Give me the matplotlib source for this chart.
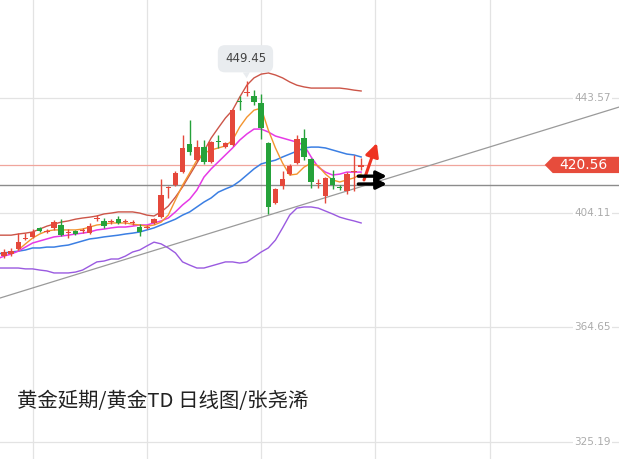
import numpy as np
import matplotlib.pyplot as plt
from matplotlib.patches import Polygon
import matplotlib.transforms as mtransforms

plt.rcParams['font.family'] = ['Noto Sans CJK SC', 'DejaVu Sans']

# ---------------- data ----------------
opens = [389.2, 389.9, 391.6, 395.1, 395.8, 398.9, 397.5, 398.9, 399.9, 397.1,
         397.8, 397.8, 397.1, 401.9, 401.3, 400.9, 401.9, 400.9, 400.6, 399.2,
         398.9, 400.6, 402.6, 412.6, 413.6, 418.1, 427.8, 422.2, 426.7, 421.6,
         428.8, 426.7, 427.4, 442.5, 445.3, 444.3, 441.9, 428.1, 407.5, 413.3,
         417.4, 421.2, 429.8, 422.6, 414.0, 409.9, 416.1, 413.0, 411.6, 418.1,
         419.8]
closes = [390.6, 390.9, 394.0, 395.4, 397.5, 397.8, 397.8, 400.9, 396.4, 397.5,
          396.8, 398.2, 399.5, 402.3, 399.5, 401.3, 400.6, 401.3, 400.9, 397.5,
          399.2, 401.9, 410.2, 413.0, 417.8, 426.4, 425.0, 426.7, 421.6, 428.4,
          428.4, 428.1, 439.4, 442.2, 445.6, 442.2, 433.3, 406.1, 412.3, 415.7,
          420.2, 429.5, 423.3, 414.7, 414.3, 416.1, 413.6, 412.6, 417.4, 418.5,
          420.56]
highs = [391.6, 392.0, 397.1, 397.1, 398.5, 399.2, 398.5, 401.6, 401.9, 398.5,
         398.2, 398.9, 400.6, 403.3, 402.3, 401.9, 403.0, 401.9, 401.6, 400.2,
         399.9, 402.3, 415.7, 413.3, 418.5, 430.8, 436.0, 429.1, 429.1, 428.8,
         430.8, 428.4, 439.8, 444.3, 449.45, 446.3, 445.0, 428.4, 412.6, 418.5,
         420.9, 430.8, 432.9, 422.9, 415.7, 416.4, 418.8, 413.6, 418.1, 424.0,
         422.9]
lows = [388.5, 389.2, 391.3, 394.7, 395.4, 397.5, 397.1, 398.2, 396.1, 395.4,
        396.4, 397.1, 396.8, 401.3, 398.9, 400.2, 400.2, 400.2, 399.9, 396.1,
        398.5, 400.2, 402.3, 409.2, 413.3, 417.8, 424.0, 421.9, 420.9, 421.2,
        426.4, 426.4, 427.1, 439.4, 444.3, 441.2, 429.5, 403.7, 407.1, 412.3,
        417.1, 420.9, 422.2, 412.6, 412.6, 407.5, 412.3, 411.9, 410.6, 411.6,
        418.8]

nan = np.nan
line_idx = np.arange(-1, 51)
boll_up = [396.4, 396.4, 396.4, 396.8, 397.1, 397.5, 398.5, 399.5, 400.2, 400.9,
           401.3, 401.9, 402.3, 402.6, 403.0, 403.7, 404.0, 404.4, 404.4, 404.4,
           404.0, 403.3, 403.0, 404.4, 406.4, 409.5, 413.0, 417.1, 421.2, 425.3,
           429.8, 433.3, 436.7, 439.4, 443.9, 448.0, 450.5, 451.8, 452.2, 451.5,
           450.5, 449.1, 448.0, 447.4, 447.0, 447.0, 447.0, 447.0, 447.0, 446.7,
           446.3, 446.0]
ma5 = [nan, nan, nan, 391.3, 393.4, 395.4, 396.8, 397.8, 398.2, 398.2,
       398.2, 398.2, 398.5, 399.2, 399.9, 400.2, 400.6, 400.6, 400.6, 400.2,
       399.9, 399.5, 399.9, 400.9, 403.3, 408.5, 413.6, 417.8, 422.2, 424.6,
       425.7, 426.4, 427.1, 429.1, 433.6, 437.0, 439.4, 440.1, 432.6, 426.4,
       421.2, 417.1, 417.4, 419.8, 421.2, 420.2, 417.4, 415.4, 414.7, 415.4,
       416.1, 417.4]
ma10 = [388.2, 389.2, 389.9, 390.9, 392.3, 393.7, 394.4, 395.1, 395.8, 396.1,
        396.4, 396.8, 397.1, 397.5, 398.2, 398.5, 398.9, 399.2, 399.2, 399.5,
        399.9, 399.9, 400.6, 401.3, 402.3, 404.4, 406.8, 408.8, 411.9, 416.4,
        419.2, 421.6, 424.0, 426.4, 429.1, 431.2, 432.9, 432.9, 431.9, 430.5,
        429.8, 429.1, 428.4, 427.4, 423.3, 419.8, 418.1, 417.1, 417.4, 418.1,
        418.1, 418.1]
boll_mid = [389.9, 390.3, 390.6, 390.9, 391.3, 392.0, 392.0, 392.3, 392.3, 392.7,
            393.0, 393.7, 394.4, 395.1, 395.4, 395.8, 396.1, 396.4, 396.8, 397.1,
            397.5, 398.2, 398.9, 399.9, 400.9, 401.9, 403.3, 404.4, 406.1, 407.8,
            409.2, 411.2, 412.3, 413.3, 415.0, 417.1, 419.2, 420.9, 421.6, 422.2,
            423.3, 424.3, 425.3, 426.4, 426.7, 426.7, 426.4, 425.7, 425.0, 424.3,
            424.0, 423.3]
boll_dn = [385.1, 385.1, 385.1, 385.1, 384.8, 384.8, 384.4, 384.1, 383.4, 383.4,
           383.4, 383.7, 384.4, 385.8, 387.2, 387.5, 388.2, 388.2, 389.2, 390.6,
           391.3, 392.7, 394.0, 393.4, 392.0, 390.3, 387.2, 386.1, 385.1, 385.1,
           385.8, 386.5, 387.2, 387.2, 386.8, 387.2, 388.9, 390.6, 392.0, 394.7,
           398.9, 403.3, 405.7, 406.1, 406.1, 405.7, 404.7, 403.7, 402.6, 401.9,
           401.3, 400.6]

axis_prices = [443.57, 404.11, 364.65, 325.19]
grid_idx = [4, 20, 36, 52, 68]
last_price = 420.56
support_price = 413.64
trend_a = (0, 375.2)
trend_b = (50, 413.1)
peak_idx, peak_price = 34, 449.45
title = "黄金延期/黄金TD 日线图/张尧浠"

# ---------------- figure ----------------
fig = plt.figure(figsize=(6.19, 4.59), dpi=100)
ax = fig.add_axes([0, 0, 1, 1])
ax.set_xlim(-0.56, 86.1)
ax.set_ylim(319.4, 477.3)
ax.axis('off')

for p in axis_prices:
    ax.axhline(p, color='#e3e3e3', lw=0.9, zorder=0)
for g in grid_idx:
    ax.axvline(g, color='#e3e3e3', lw=0.9, zorder=0)

ax.axhline(last_price, color='#f0a59c', lw=0.9, zorder=1)
ax.axhline(support_price, color='#8c8c8c', lw=1.0, zorder=1)
ax.axline(trend_a, trend_b, color='#9a9a9a', lw=0.9, zorder=1)

ax.plot(line_idx, boll_up, color='#cc5548', lw=1.0, zorder=2)
ax.plot(line_idx, boll_mid, color='#3b7fe3', lw=1.1, zorder=2)
ax.plot(line_idx, boll_dn, color='#9a5ae0', lw=1.0, zorder=2)
ax.plot(line_idx, ma10, color='#e63ae6', lw=1.1, zorder=2)
ax.plot(line_idx, ma5, color='#f3952f', lw=1.0, zorder=2)

# candles
o = np.array(opens); c = np.array(closes)
h = np.array(highs); l = np.array(lows)
idx = np.arange(len(o))
up = c >= o
cols = np.where(up, '#e5483b', '#25a23a')
ax.vlines(idx, l, h, colors=cols, lw=1.0, zorder=3)
body = np.maximum(np.abs(c - o), 0.45)
ax.bar(idx, body, bottom=np.minimum(o, c), width=0.75, color=cols, zorder=4)

# peak label
ax.annotate(f"{peak_price:.2f}", xy=(peak_idx, peak_price), xytext=(-1, 16),
            textcoords='offset points', ha='center', va='center',
            fontsize=8.5, color='#444444', family='DejaVu Sans',
            bbox=dict(boxstyle='round,pad=0.6', fc='#e9ecef', ec='none'),
            arrowprops=dict(arrowstyle='wedge,tail_width=0.6', fc='#e9ecef',
                            ec='none', shrinkA=0, shrinkB=2))

# right price labels
trans = mtransforms.blended_transform_factory(ax.transAxes, ax.transData)
for p in axis_prices:
    ax.text(0.957, p, f"{p:.2f}", transform=trans, ha='center', va='center',
            fontsize=7.5, color='#ababab', family='DejaVu Sans',
            bbox=dict(boxstyle='square,pad=0.15', fc='white', ec='none'))

tag = Polygon([(0.880, last_price), (0.893, last_price + 2.8), (1.0, last_price + 2.8),
               (1.0, last_price - 2.8), (0.893, last_price - 2.8)],
              closed=True, transform=trans, fc='#e74c3c', ec='none', zorder=5)
ax.add_patch(tag)
ax.text(0.942, last_price, f"{last_price:.2f}", transform=trans, ha='center',
        va='center', fontsize=10, color='white', family='DejaVu Sans', zorder=6)

# arrows
ax.annotate('', xy=(52.2, 428.1), xytext=(50.4, 415.4),
            arrowprops=dict(arrowstyle='-|>,head_length=0.8,head_width=0.4',
                            color='#ee3322', lw=2.2, shrinkA=0, shrinkB=0), zorder=6)
for yy in (416.7, 414.0):
    ax.annotate('', xy=(53.6, yy), xytext=(49.6, yy),
                arrowprops=dict(arrowstyle='-|>,head_length=0.6,head_width=0.3',
                                color='black', lw=2.4, shrinkA=0, shrinkB=0), zorder=6)

fig.text(17 / 619, 1 - 402 / 459, title, ha='left', va='center',
         fontsize=14.7, color='#222222')

fig.savefig('out.png', dpi=100)
